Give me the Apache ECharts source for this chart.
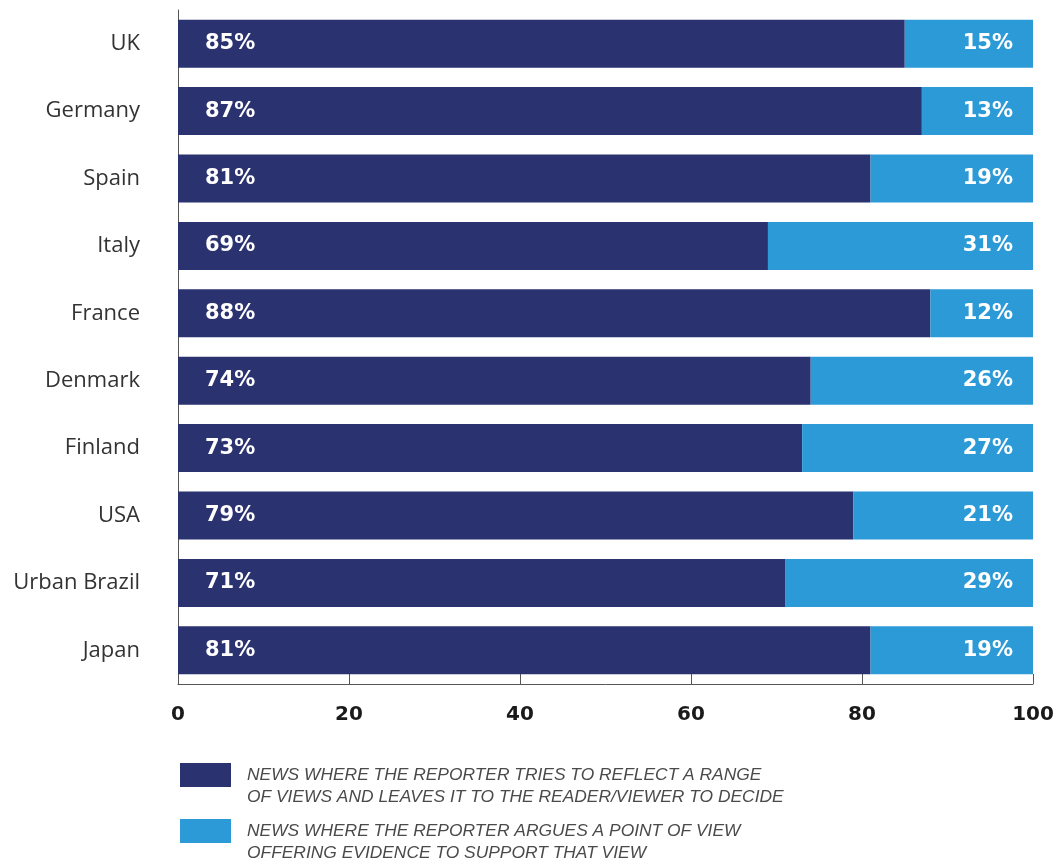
<!DOCTYPE html>
<html>
<head>
<meta charset="utf-8">
<script src="https://cdn.jsdelivr.net/npm/echarts@6/dist/echarts.min.js"></script>
<style>
html,body{margin:0;padding:0;background:#fff;}
#chart{width:1057px;height:858px;}
</style>
</head>
<body>
<div id="chart"></div>
<script>
const countries = ['UK','Germany','Spain','Italy','France','Denmark','Finland','USA','Urban Brazil','Japan'];
const rangeOfViews = [85,87,81,69,88,74,73,79,71,81];
const pointOfView = [15,13,19,31,12,26,27,21,29,19];
const xTicks = [0,20,40,60,80,100];
const legendNames = [
  'NEWS WHERE THE REPORTER TRIES TO REFLECT A RANGE\nOF VIEWS AND LEAVES IT TO THE READER/VIEWER TO DECIDE',
  'NEWS WHERE THE REPORTER ARGUES A POINT OF VIEW\nOFFERING EVIDENCE TO SUPPORT THAT VIEW'
];
const DARK = '#2b3270';
const LIGHT = '#2c9ad7';
const ICON = 'path://M0,0L51,0L51,24L0,24Z M0,46L51,46Z';

const chart = echarts.init(document.getElementById('chart'));
const labelFont = {color:'#fff', fontFamily:'DejaVu Sans', fontWeight:'bold', fontSize:21};
chart.setOption({
  animation:false,
  backgroundColor:'#fff',
  grid:{left:178, right:24, top:10, bottom:174, containLabel:false},
  xAxis:{
    type:'value', min:0, max:100, interval:20,
    axisLine:{show:true, lineStyle:{color:'#555', width:1}},
    axisTick:{show:true, inside:true, length:10, lineStyle:{color:'#555'}},
    splitLine:{show:false},
    axisLabel:{margin:21, color:'#1a1a1a', fontFamily:'DejaVu Sans', fontWeight:'bold', fontSize:20,
      formatter:v=> xTicks.includes(v)? String(v):''}
  },
  yAxis:{
    type:'category', data:countries, inverse:true,
    axisLine:{show:true, lineStyle:{color:'#555', width:1}},
    axisTick:{show:false},
    axisLabel:{margin:38, color:'#333', fontFamily:'Open Sans', fontSize:22}
  },
  legend:{
    orient:'vertical', left:180, top:763, height:140, itemGap:10, padding:0,
    itemWidth:51, itemHeight:46,
    data:[
      {name:legendNames[0], icon:ICON},
      {name:legendNames[1], icon:ICON}
    ],
    textStyle:{color:'#4a4a4a', fontStyle:'italic', fontFamily:'Liberation Sans', fontSize:17.4, lineHeight:22, padding:[0,0,0,11]},
    selectedMode:false
  },
  series:[
    {name:legendNames[0], type:'bar', stack:'t', data:rangeOfViews, barWidth:48,
     itemStyle:{color:DARK},
     label:{show:true, position:'insideLeft', distance:27, formatter:'{c}%', ...labelFont}},
    {name:legendNames[1], type:'bar', stack:'t', data:pointOfView, barWidth:48,
     itemStyle:{color:LIGHT},
     label:{show:true, position:'insideRight', distance:20, formatter:'{c}%', ...labelFont}}
  ]
});
</script>
</body>
</html>
